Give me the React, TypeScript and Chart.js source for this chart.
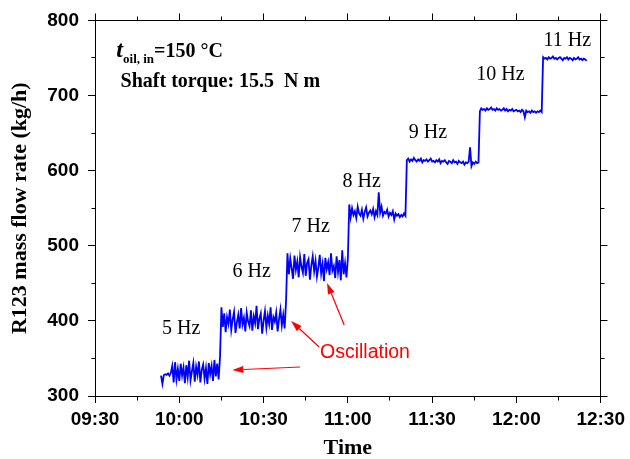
import React, { useEffect, useRef } from 'react';
import { Chart, registerables } from 'chart.js';

Chart.register(...registerables);

// ---- axes (time in minutes after midnight) ----
const X_MIN = 570; // 09:30
const X_MAX = 750; // 12:30
const X_STEP = 30;
const Y_MIN = 300;
const Y_MAX = 800;
const Y_STEP = 100;

// ---- measured R123 mass flow rate (kg/h), sampled every 0.5 min ----
const SAMPLE_MIN = 0.5;
const segmentStart = [593.5, 615, 638.5, 660.5, 681, 707, 729.5];

const flow5Hz = [327, 316, 328, 329, 328, 330, 327, 331,
  340, 318, 345, 322, 336, 320, 343, 327, 338, 317, 341, 325, 347, 321, 333, 344, 319, 339, 328, 346,
  318, 335, 342, 323, 337, 316, 344, 329, 340, 320, 348, 326, 343, 322, 352];
const flow6Hz = [418, 392, 410, 385, 405, 396, 415, 388, 402, 412, 384, 398, 408, 390, 417, 395, 404, 386,
  411, 399, 393, 414, 387, 406, 397, 420, 389, 403, 410, 383, 400, 413, 391, 407, 396, 418, 388, 405, 399,
  411, 386, 402, 415, 394, 408, 390, 426];
const flow7Hz = [490, 462, 483, 470, 456, 487, 468, 479, 458, 485, 472, 464, 489, 460, 477, 482, 455, 474,
  486, 466, 480, 459, 471, 488, 463, 476, 453, 484, 469, 478, 461, 490, 467, 473, 457, 486, 465, 481, 454,
  494, 462, 477, 458, 483];
const flow8Hz = [555, 538, 550, 541, 546, 537, 552, 543, 540, 548, 536, 545, 551, 539, 544, 547, 542, 549,
  538, 546, 541, 571, 544, 552, 540, 545, 543, 548, 539, 544, 541, 546, 535, 543, 540, 542, 538, 541, 539,
  543, 540];
const flow9Hz = [614, 616, 612, 615, 613, 617, 614, 612, 615, 613, 616, 611, 614, 613, 615, 612, 614, 616,
  612, 613, 611, 614, 612, 615, 610, 613, 612, 614, 611, 609, 613, 612, 610, 614, 611, 612, 609, 613, 611,
  610, 612, 608, 611, 610, 612, 631, 606, 611, 609, 612, 610, 611];
const flow10Hz = [679, 683, 681, 682, 680, 683, 681, 682, 684, 681, 682, 680, 683, 681, 682, 680, 681, 683,
  680, 682, 679, 681, 680, 682, 679, 680, 681, 679, 680, 678, 681, 679, 671, 680, 678, 679, 677, 680, 678,
  679, 677, 679, 678, 680, 678];
const flow11Hz = [751, 749, 750, 748, 751, 749, 750, 752, 749, 750, 748, 750, 751, 749, 747, 750, 749, 751,
  748, 750, 749, 747, 750, 748, 749, 751, 748, 749, 747, 749, 748, 746];
const segments = [flow5Hz, flow6Hz, flow7Hz, flow8Hz, flow9Hz, flow10Hz, flow11Hz];

// ---- annotations (data coordinates) ----
const freqLabels = ['5 Hz', '6 Hz', '7 Hz', '8 Hz', '9 Hz', '10 Hz', '11 Hz'];
const freqLabelX = [600.7, 625.8, 646.8, 664.9, 688.5, 714.3, 738.1];
const freqLabelY = [382.4, 458.2, 518, 578, 643, 720.2, 765.4];

const oscText = 'Oscillation';
const oscTextPos = [666.1, 350.5];
const arrowTail = [[643.0, 338.6], [649.8, 365.2], [658.7, 394.4]];
const arrowHead = [[618.9, 334.6], [639.8, 399.7], [652.6, 450.3]];

const condPos = [577.6, 750.8];
const torquePos = [579.1, 710.9];

const SERIF = '"Liberation Serif", "Times New Roman", serif';
const SANS = '"Liberation Sans", Arial, sans-serif';

const fmtTime = (v: number) => {
  const h = Math.floor(v / 60);
  const m = Math.round(v - h * 60);
  return `${String(h).padStart(2, '0')}:${String(m).padStart(2, '0')}`;
};

const align = (p: number) => Math.round(p - 0.5) + 0.5;

const decor = {
  id: 'decor',
  afterDraw(chart: any) {
    const { ctx, chartArea: a, scales } = chart;
    const xs = scales.x;
    const ys = scales.y;
    const L = align(a.left), R = align(a.right), T = align(a.top), B = align(a.bottom);
    ctx.save();
    ctx.strokeStyle = '#000';
    ctx.lineWidth = 1;
    ctx.beginPath();
    ctx.moveTo(L, T); ctx.lineTo(R, T); ctx.lineTo(R, B);
    // mirror + minor ticks, x
    for (let v = X_MIN; v <= X_MAX + 0.01; v += X_STEP / 2) {
      const major = Math.abs(((v - X_MIN) / X_STEP) - Math.round((v - X_MIN) / X_STEP)) < 1e-6;
      const len = major ? 7 : 4;
      const px = align(xs.getPixelForValue(v));
      ctx.moveTo(px, T); ctx.lineTo(px, T - len);
      if (!major) { ctx.moveTo(px, B); ctx.lineTo(px, B + len); }
    }
    for (let v = Y_MIN; v <= Y_MAX + 0.01; v += Y_STEP / 2) {
      const major = Math.abs(((v - Y_MIN) / Y_STEP) - Math.round((v - Y_MIN) / Y_STEP)) < 1e-6;
      const len = major ? 7 : 4;
      const py = align(ys.getPixelForValue(v));
      ctx.moveTo(R, py); ctx.lineTo(R + len, py);
      if (!major) { ctx.moveTo(L, py); ctx.lineTo(L - len, py); }
    }
    ctx.stroke();

    // frequency labels
    ctx.fillStyle = '#000';
    ctx.textAlign = 'center';
    ctx.textBaseline = 'alphabetic';
    ctx.font = `20px ${SERIF}`;
    freqLabels.forEach((t, i) => {
      ctx.fillText(t, xs.getPixelForValue(freqLabelX[i]), ys.getPixelForValue(freqLabelY[i]));
    });

    // condition text
    ctx.textAlign = 'left';
    let cx = xs.getPixelForValue(condPos[0]);
    const cy = ys.getPixelForValue(condPos[1]);
    ctx.font = `bold italic 24px ${SERIF}`;
    ctx.fillText('t', cx, cy);
    cx += ctx.measureText('t').width;
    ctx.font = `bold 13px ${SERIF}`;
    ctx.fillText('oil, in', cx, cy + 6);
    cx += ctx.measureText('oil, in').width;
    ctx.font = `bold 20px ${SERIF}`;
    ctx.fillText('=150 °C', cx, cy);
    ctx.fillText('Shaft torque: 15.5  N m', xs.getPixelForValue(torquePos[0]), ys.getPixelForValue(torquePos[1]));

    // oscillation callout
    ctx.fillStyle = '#ff0000';
    ctx.strokeStyle = '#ff0000';
    ctx.textAlign = 'center';
    ctx.font = `19.5px ${SANS}`;
    ctx.fillText(oscText, xs.getPixelForValue(oscTextPos[0]), ys.getPixelForValue(oscTextPos[1]));
    ctx.lineWidth = 1.2;
    arrowTail.forEach((tail, i) => {
      const x1 = xs.getPixelForValue(tail[0]);
      const y1 = ys.getPixelForValue(tail[1]);
      const x2 = xs.getPixelForValue(arrowHead[i][0]);
      const y2 = ys.getPixelForValue(arrowHead[i][1]);
      const ang = Math.atan2(y2 - y1, x2 - x1);
      const hl = 11, hw = 3.5;
      const bx = x2 - hl * Math.cos(ang);
      const by = y2 - hl * Math.sin(ang);
      ctx.beginPath();
      ctx.moveTo(x1, y1); ctx.lineTo(bx, by);
      ctx.stroke();
      ctx.beginPath();
      ctx.moveTo(x2, y2);
      ctx.lineTo(bx + hw * Math.sin(ang), by - hw * Math.cos(ang));
      ctx.lineTo(bx - hw * Math.sin(ang), by + hw * Math.cos(ang));
      ctx.closePath();
      ctx.fill();
    });
    ctx.restore();
  },
};

export default function App() {
  const ref = useRef<HTMLCanvasElement | null>(null);
  useEffect(() => {
    document.body.style.margin = '0';
    const points: { x: number; y: number }[] = [];
    segments.forEach((seg, s) => {
      seg.forEach((v, i) => points.push({ x: segmentStart[s] + i * SAMPLE_MIN, y: v }));
    });
    const chart = new Chart(ref.current as HTMLCanvasElement, {
      type: 'line',
      data: {
        datasets: [{
          data: points,
          borderColor: '#0000ff',
          borderWidth: 1.8,
          pointRadius: 0,
          tension: 0,
          fill: false,
        }],
      },
      options: {
        animation: false,
        responsive: false,
        maintainAspectRatio: false,
        layout: { padding: { left: 0, top: 20, right: 28, bottom: 0 } },
        plugins: { legend: { display: false }, tooltip: { enabled: false } },
        scales: {
          x: {
            type: 'linear',
            min: X_MIN,
            max: X_MAX,
            afterFit: (s: any) => { s.height = 63; },
            ticks: {
              stepSize: X_STEP,
              callback: (v: any) => fmtTime(Number(v)),
              color: '#000',
              font: { family: SANS, size: 19, weight: 'bold' },
              padding: 5,
              maxRotation: 0,
              autoSkip: false,
            },
            grid: { drawOnChartArea: false, color: '#000', tickLength: 7, tickColor: '#000' },
            border: { color: '#000', width: 1 },
            title: {
              display: true,
              text: 'Time',
              color: '#000',
              font: { family: SERIF, size: 22, weight: 'bold' },
              padding: { top: 0, bottom: -3 },
            },
          },
          y: {
            min: Y_MIN,
            max: Y_MAX,
            afterFit: (s: any) => { s.width = 95; },
            ticks: {
              stepSize: Y_STEP,
              color: '#000',
              font: { family: SANS, size: 19, weight: 'bold' },
              padding: 9,
            },
            grid: { drawOnChartArea: false, color: '#000', tickLength: 7, tickColor: '#000' },
            border: { color: '#000', width: 1 },
            title: {
              display: true,
              text: 'R123 mass flow rate (kg/h)',
              color: '#000',
              font: { family: SERIF, size: 22, weight: 'bold' },
              padding: { top: 7, bottom: 0 },
            },
          },
        },
      },
      plugins: [decor],
    });
    return () => chart.destroy();
  }, []);
  return (
    <div style={{ position: 'fixed', left: 0, top: 0, width: 630, height: 459, background: '#fff' }}>
      <canvas ref={ref} width={630} height={459} style={{ width: 630, height: 459 }} />
    </div>
  );
}
